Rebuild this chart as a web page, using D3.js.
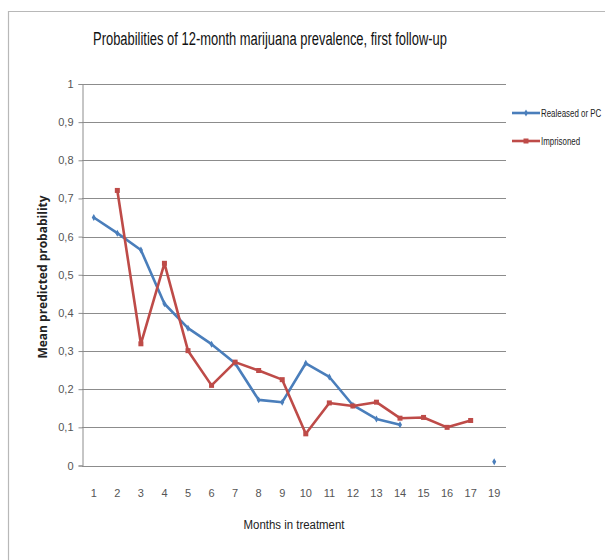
<!DOCTYPE html>
<html>
<head>
<meta charset="utf-8">
<script src="https://cdn.jsdelivr.net/npm/d3@7/dist/d3.min.js"></script>
<style>
  html, body { margin: 0; padding: 0; background: #fff; }
  svg { display: block; }
  text { font-family: "Liberation Sans Narrow", "Liberation Sans", Arial, sans-serif; }
</style>
</head>
<body>
<svg id="chart" width="605" height="560"></svg>
<script>
// Months in treatment (month 18 has no observations)
const months = ["1","2","3","4","5","6","7","8","9","10","11","12","13","14","15","16","17","19"];
// Mean predicted probability per month; null = no estimate
const released = [0.65, 0.609, 0.565, 0.424, 0.36, 0.318, 0.268, 0.172, 0.166, 0.268, 0.232, 0.158, 0.122, 0.107, null, null, null, 0.01];
const imprisoned = [null, 0.721, 0.319, 0.53, 0.301, 0.21, 0.271, 0.249, 0.225, 0.083, 0.164, 0.156, 0.166, 0.124, 0.126, 0.10, 0.118, null];
const yTicks = [0, 0.1, 0.2, 0.3, 0.4, 0.5, 0.6, 0.7, 0.8, 0.9, 1];
const seriesNames = ["Realeased or PC", "Imprisoned"];
const seriesColors = ["#4a7ebb", "#be4b48"];

const svg = d3.select("#chart");
const plot = { left: 82, right: 506, top: 84, bottom: 465.5 };

// chart frame
svg.append("path")
  .attr("d", "M8.5,560 V11.5 H605")
  .attr("fill", "none")
  .attr("stroke", "#b8b8b8")
  .attr("stroke-width", 1.2);

const x = d3.scaleBand().domain(months).range([plot.left, plot.right]);
const y = d3.scaleLinear().domain([0, 1]).range([plot.bottom, plot.top]);
const fmt = v => d3.format(".1f")(v).replace(".", ",").replace(/^0,0$/, "0").replace(/^1,0$/, "1");

// horizontal gridlines
svg.append("g")
  .selectAll("line")
  .data(yTicks)
  .join("line")
  .attr("x1", plot.left).attr("x2", plot.right)
  .attr("y1", d => Math.round(y(d)) + 0.5).attr("y2", d => Math.round(y(d)) + 0.5)
  .attr("stroke", "#8c8c8c").attr("stroke-width", 1);

// y axis
const yAxis = svg.append("g")
  .attr("transform", `translate(${plot.left + 0.5},0)`)
  .call(d3.axisLeft(y).tickValues(yTicks).tickFormat(fmt).tickSize(4).tickPadding(5));
yAxis.select(".domain").attr("stroke", "#8c8c8c");
yAxis.selectAll(".tick line").attr("stroke", "#8c8c8c");
yAxis.selectAll(".tick text")
  .attr("fill", "#555")
  .style("font-size", "11px")
  .style("font-family", "\"Liberation Sans Narrow\", \"Liberation Sans\", sans-serif");

// x axis labels
const xAxis = svg.append("g")
  .attr("transform", `translate(0,${plot.bottom})`)
  .call(d3.axisBottom(x).tickSize(0).tickPadding(24));
xAxis.select(".domain").remove();
xAxis.selectAll(".tick text")
  .attr("fill", "#555")
  .style("font-size", "11px")
  .style("font-family", "\"Liberation Sans Narrow\", \"Liberation Sans\", sans-serif");

// series lines
const line = d3.line()
  .defined(d => d.v !== null)
  .x(d => x(d.m) + x.bandwidth() / 2)
  .y(d => y(d.v));

const series = [released, imprisoned].map((vals, i) => ({
  name: seriesNames[i],
  color: seriesColors[i],
  pts: months.map((m, j) => ({ m, v: vals[j] }))
}));

series.forEach((s, i) => {
  svg.append("path")
    .datum(s.pts)
    .attr("fill", "none")
    .attr("stroke", s.color)
    .attr("stroke-width", 2.6)
    .attr("stroke-linejoin", "round")
    .attr("d", line);
  const pts = s.pts.filter(d => d.v !== null);
  if (i === 0) {
    svg.append("g").selectAll("path")
      .data(pts).join("path")
      .attr("transform", d => `translate(${x(d.m) + x.bandwidth() / 2},${y(d.v)})`)
      .attr("d", d3.symbol(d3.symbolDiamond, 14)())
      .attr("fill", s.color);
  } else {
    svg.append("g").selectAll("rect")
      .data(pts).join("rect")
      .attr("x", d => x(d.m) + x.bandwidth() / 2 - 2.5)
      .attr("y", d => y(d.v) - 2.5)
      .attr("width", 5).attr("height", 5)
      .attr("fill", s.color);
  }
});

// legend (labels condensed horizontally to fit the right margin)
const legendY = [113, 141];
series.forEach((s, i) => {
  const g = svg.append("g").attr("transform", `translate(512,${legendY[i]})`);
  g.append("line").attr("x1", 0).attr("x2", 28).attr("y1", 0).attr("y2", 0)
    .attr("stroke", s.color).attr("stroke-width", 2.6);
  if (i === 0) {
    g.append("path").attr("transform", "translate(14,0)")
      .attr("d", d3.symbol(d3.symbolDiamond, 14)()).attr("fill", s.color);
  } else {
    g.append("rect").attr("x", 11.5).attr("y", -2.5).attr("width", 5).attr("height", 5).attr("fill", s.color);
  }
  g.append("text")
    .attr("transform", "translate(29,4) scale(0.72,1)")
    .style("font-size", "11px").attr("fill", "#222")
    .text(s.name);
});

// title
svg.append("text")
  .attr("x", 270).attr("y", 45)
  .attr("text-anchor", "middle")
  .style("font-size", "18px")
  .attr("fill", "#111")
  .attr("textLength", 354).attr("lengthAdjust", "spacingAndGlyphs")
  .text("Probabilities of 12-month marijuana prevalence, first follow-up");

// axis titles
svg.append("text")
  .attr("x", 294).attr("y", 529)
  .attr("text-anchor", "middle")
  .style("font-size", "12.5px")
  .attr("fill", "#222")
  .attr("textLength", 101).attr("lengthAdjust", "spacingAndGlyphs")
  .text("Months in treatment");

svg.append("text")
  .attr("transform", "translate(47,277) rotate(-90)")
  .attr("text-anchor", "middle")
  .style("font-size", "12px")
  .style("font-weight", "bold")
  .style("font-family", "\"Open Sans\", \"DejaVu Sans\", sans-serif")
  .attr("fill", "#222")
  .text("Mean predicted probability");
</script>
</body>
</html>
